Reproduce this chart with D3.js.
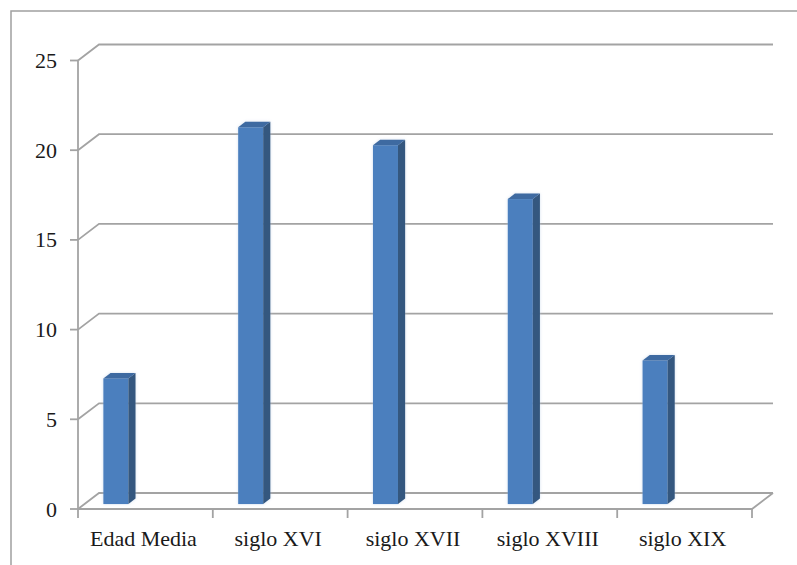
<!DOCTYPE html>
<html>
<head>
<meta charset="utf-8">
<script src="https://cdn.jsdelivr.net/npm/d3@7"></script>
<style>
  html, body { margin: 0; padding: 0; background: #fff; }
  svg { display: block; }
  text { font-family: "Liberation Serif", "Times New Roman", serif; fill: #1a1a1a; }
</style>
</head>
<body>
<svg id="chart" width="797" height="565"></svg>
<script>
// Chart data
const categories = ["Edad Media", "siglo XVI", "siglo XVII", "siglo XVIII", "siglo XIX"];
const values = [7, 21, 20, 17, 8];
const yTicks = [0, 5, 10, 15, 20, 25];

const svg = d3.select("#chart");

// Front plane of the 3D plot box, and the depth offset toward the back wall
const front = { left: 78, right: 752, bottom: 509, top: 60.5 };
const depth = { dx: 21, dy: -16 };

const x = d3.scaleBand().domain(categories).range([front.left, front.right]).paddingInner(0).paddingOuter(0);
const y = d3.scaleLinear().domain([0, 25]).range([front.bottom, front.top]);

const gridColor = "#a3a3a3";

// Outer chart frame
svg.append("rect")
  .attr("x", 11).attr("y", 11)
  .attr("width", 820).attr("height", 620)
  .attr("fill", "none").attr("stroke", "#a0a0a0").attr("stroke-width", 1.5);

const grid = svg.append("g").attr("fill", "none").attr("stroke", gridColor).attr("stroke-width", 1.8);

// Back-wall gridlines with side-wall diagonals
yTicks.forEach(t => {
  const yf = y(t);
  grid.append("path")
    .attr("d", `M${front.left},${yf} L${front.left + depth.dx},${yf + depth.dy} L${front.right + depth.dx},${yf + depth.dy}`);
});

// Floor front edge and right side
grid.append("path")
  .attr("d", `M${front.left},${y(0)} L${front.right},${y(0)} L${front.right + depth.dx},${y(0) + depth.dy}`);

// Vertical value axis on the front plane
grid.append("line")
  .attr("x1", front.left).attr("x2", front.left)
  .attr("y1", y(25)).attr("y2", y(0));

// Value axis ticks and labels
const yAxis = svg.append("g");
yTicks.forEach(t => {
  yAxis.append("line")
    .attr("x1", front.left - 8).attr("x2", front.left)
    .attr("y1", y(t)).attr("y2", y(t))
    .attr("stroke", gridColor).attr("stroke-width", 1.8);
  yAxis.append("text")
    .attr("x", 57).attr("y", y(t) + 7.5)
    .attr("text-anchor", "end")
    .attr("font-size", 22)
    .text(t);
});

// Category ticks at band boundaries
const boundaries = categories.map(c => x(c)).concat([front.right]);
svg.append("g").selectAll("line").data(boundaries).join("line")
  .attr("x1", d => d).attr("x2", d => d)
  .attr("y1", y(0)).attr("y2", y(0) + 9)
  .attr("stroke", gridColor).attr("stroke-width", 1.8);

// Category labels
svg.append("g").selectAll("text").data(categories).join("text")
  .attr("x", d => x(d) + x.bandwidth() / 2 - 2)
  .attr("y", 546)
  .attr("text-anchor", "middle")
  .attr("font-size", 22)
  .text(d => d);

// 3D columns
const barInset = x.bandwidth() * 0.14;   // offset of the column from the band start
const barWidth = 25;
const f0 = 0.31;                          // depth position of the column's front face
const f1 = 0.34;                          // column depth (fraction of box depth)
const ox = depth.dx * f0, oy = depth.dy * f0;
const bx = depth.dx * f1, by = depth.dy * f1;

const defs = svg.append("defs");
defs.append("filter").attr("id", "glow").attr("x", "-30%").attr("y", "-10%").attr("width", "160%").attr("height", "120%")
  .append("feGaussianBlur").attr("stdDeviation", 1.6);

const bars = svg.append("g").selectAll("g").data(categories.map((c, i) => ({ c, v: values[i] }))).join("g");

bars.each(function(d) {
  const g = d3.select(this);
  const x0 = x(d.c) + barInset + ox;
  const x1 = x0 + barWidth;
  const yb = y(0) + oy;
  const yt = y(d.v) + oy;

  // soft halo behind the column
  g.append("path")
    .attr("d", `M${x0},${yb} L${x0},${yt} L${x0 + bx},${yt + by} L${x1 + bx},${yt + by} L${x1 + bx},${yb + by} L${x1},${yb} Z`)
    .attr("fill", "#b7cbe4").attr("opacity", 0.6).attr("filter", "url(#glow)");

  // front face
  g.append("rect")
    .attr("x", x0).attr("y", yt).attr("width", barWidth).attr("height", yb - yt)
    .attr("fill", "#4b7fbe");
  // right side face
  g.append("path")
    .attr("d", `M${x1},${yt} L${x1 + bx},${yt + by} L${x1 + bx},${yb + by} L${x1},${yb} Z`)
    .attr("fill", "#34577f");
  // top face
  g.append("path")
    .attr("d", `M${x0},${yt} L${x0 + bx},${yt + by} L${x1 + bx},${yt + by} L${x1},${yt} Z`)
    .attr("fill", "#3e6aa1");
});
</script>
</body>
</html>
